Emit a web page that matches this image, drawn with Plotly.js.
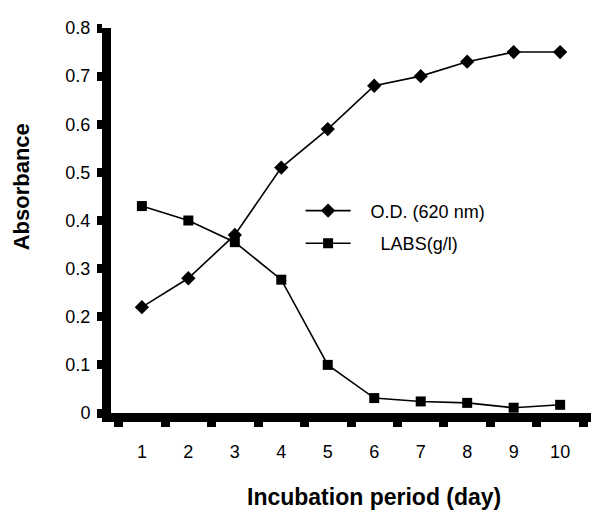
<!DOCTYPE html>
<html><head><meta charset="utf-8">
<script src="https://cdn.plot.ly/plotly-3.0.1.min.js"></script>
<style>html,body{margin:0;padding:0;background:#fff}</style>
</head><body>
<div id="chart" style="width:591px;height:514px"></div>
<script>
const days = ['1','2','3','4','5','6','7','8','9','10'];
const odValues = [0.22, 0.28, 0.37, 0.51, 0.59, 0.68, 0.70, 0.73, 0.75, 0.75];
const labsValues = [0.43, 0.40, 0.355, 0.277, 0.10, 0.031, 0.024, 0.021, 0.011, 0.017];
const yTicks = [0, 0.1, 0.2, 0.3, 0.4, 0.5, 0.6, 0.7, 0.8];
const yTickLabels = ['0', '0.1', '0.2', '0.3', '0.4', '0.5', '0.6', '0.7', '0.8'];

const font = 'Liberation Sans, Arial, sans-serif';
const nb = '\u00a0';
const traces = [
  {x: days, y: odValues, name: nb.repeat(3) + 'O.D. (620 nm)', mode: 'lines+markers', type: 'scatter',
   line: {color: '#000', width: 1.6}, marker: {symbol: 'diamond', size: 11, color: '#000'}, legend: 'legend'},
  {x: days, y: labsValues, name: nb.repeat(5) + 'LABS(g/l)', mode: 'lines+markers', type: 'scatter',
   line: {color: '#000', width: 1.6}, marker: {symbol: 'square', size: 10, color: '#000'}, legend: 'legend2'}
];
const legendCommon = {bgcolor: 'rgba(0,0,0,0)', font: {family: font, size: 18, color: '#000'},
  xanchor: 'left', yanchor: 'middle', itemwidth: 45};
const axisCommon = {ticks: 'outside', ticklen: 5, tickwidth: 9, tickcolor: '#000',
  showline: true, linewidth: 9, linecolor: '#000', showgrid: false, zeroline: false,
  tickfont: {family: font, size: 18}, fixedrange: true};
const layout = {
  width: 591, height: 514, autosize: false,
  margin: {l: 111, r: 0, t: 28, b: 101},
  paper_bgcolor: '#fff', plot_bgcolor: '#fff',
  font: {family: font, size: 18, color: '#000'},
  showlegend: true,
  legend: Object.assign({x: 0.395, y: 0.525}, legendCommon),
  legend2: Object.assign({x: 0.395, y: 0.44}, legendCommon),
  xaxis: Object.assign({type: 'category', categoryorder: 'array', categoryarray: days,
    tickson: 'boundaries', ticklabelstandoff: 14}, axisCommon),
  yaxis: Object.assign({range: [0, 0.8], tickvals: yTicks, ticktext: yTickLabels,
    ticklabelstandoff: 3}, axisCommon),
  annotations: [
    {text: '<b>Incubation period (day)</b>', xref: 'paper', yref: 'paper',
     x: 0.548, y: -0.219, xanchor: 'center', yanchor: 'middle', showarrow: false,
     font: {family: font, size: 23, color: '#000'}},
    {text: '<b>Absorbance</b>', xref: 'paper', yref: 'paper', textangle: -90,
     x: -0.186, y: 0.588, xanchor: 'center', yanchor: 'middle', showarrow: false,
     font: {family: font, size: 22, color: '#000'}}
  ]
};
Plotly.newPlot('chart', traces, layout, {displayModeBar: false, staticPlot: true});
</script>
</body></html>
